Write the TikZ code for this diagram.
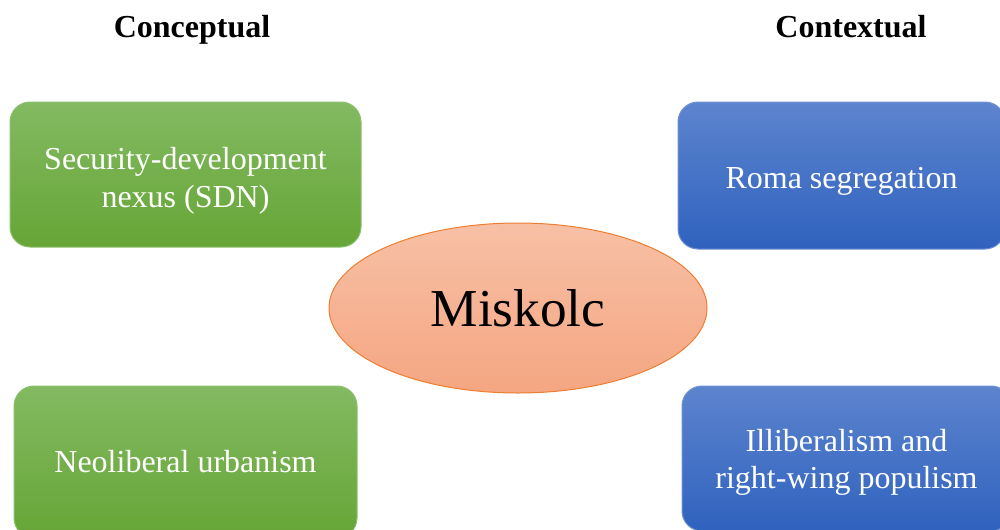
\documentclass[tikz,border=0pt]{standalone}
\usepackage{fontspec}
\setmainfont{Liberation Serif}
\usetikzlibrary{shapes.geometric}

\definecolor{greenTop}{RGB}{131,186,98}
\definecolor{greenBot}{RGB}{102,165,54}
\definecolor{greenLine}{RGB}{140,192,110}
\definecolor{blueTop}{RGB}{93,132,206}
\definecolor{blueBot}{RGB}{47,98,190}
\definecolor{blueLine}{RGB}{110,145,210}
\definecolor{salmonTop}{RGB}{247,192,165}
\definecolor{salmonBot}{RGB}{245,166,130}
\definecolor{orangeLine}{RGB}{237,125,49}

\tikzset{every picture/.style={line width=0.75pt},
  greenbox/.style={draw=greenLine, top color=greenTop, bottom color=greenBot,
    rounded corners=15pt, text=white, align=center, inner sep=0pt,
    font=\fontsize{24}{28}\selectfont},
  bluebox/.style={draw=blueLine, top color=blueTop, bottom color=blueBot,
    rounded corners=15pt, text=white, align=center, inner sep=0pt,
    font=\fontsize{24}{28}\selectfont},
  heading/.style={font=\fontsize{24}{28}\selectfont\bfseries, inner sep=0pt, anchor=base}}

\begin{document}
\begin{tikzpicture}[x=0.75pt,y=0.75pt,yscale=-1]
\useasboundingbox (0,0) rectangle (1000,529);
\clip (0,0) rectangle (1000,529);

% Headings
\node[heading] (concept) at (192,37) {Conceptual};
\node[heading] (context) at (851,37) {Contextual};

% Conceptual boxes
\node[greenbox, minimum width=263.25pt, minimum height=108.75pt, text height=53.9pt] (sdn) at (185.5,174.5) {Security-development\\nexus (SDN)};
\node[greenbox, minimum width=257.25pt, minimum height=114pt] (neolib) at (185.5,462) {Neoliberal urbanism};

% Contextual boxes
\node[bluebox, minimum width=245.25pt, minimum height=110.25pt, text height=25.4pt] (roma) at (841.5,175.5) {Roma segregation};
\node[bluebox, minimum width=246.75pt, minimum height=108.75pt, text height=50.9pt] (illib) at (846.5,458.5) {Illiberalism and\\right-wing populism};

% Centre
\node[ellipse, draw=orangeLine, top color=salmonTop, bottom color=salmonBot,
  minimum width=283.5pt, minimum height=127.5pt, inner sep=0pt,
  font=\fontsize{40}{46}\selectfont] (miskolc) at (518,308) {Miskolc};
\end{tikzpicture}
\end{document}
